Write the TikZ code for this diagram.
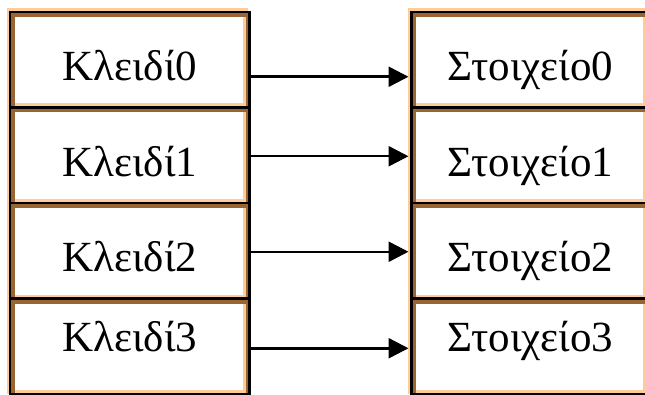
\documentclass[tikz,border=0pt]{standalone}
\usepackage{fontspec}
\setmainfont{Liberation Serif}
\usetikzlibrary{positioning, arrows.meta}

\definecolor{peach}{RGB}{255,204,153}
\definecolor{bark}{RGB}{153,102,51}

\begin{document}
\begin{tikzpicture}[
  x=1pt, y=1pt,
  node distance=0pt,
  cell/.style={draw=black, line width=2.2pt, fill=white, outer sep=0pt, inner sep=0pt,
    minimum height=95.5pt, font=\fontsize{43}{50}\selectfont,
    text height=42pt, text depth=0pt,
    path picture={
      \fill[peach] (path picture bounding box.south west) rectangle ([yshift=4pt]path picture bounding box.south east);
      \fill[peach] ([xshift=-6.5pt]path picture bounding box.south east) rectangle (path picture bounding box.north east);
      \fill[bark] ([xshift=-3.5pt]path picture bounding box.south east) rectangle (path picture bounding box.north east);
      \fill[bark] (path picture bounding box.north west) rectangle ([yshift=-5pt]path picture bounding box.north east);
      \fill[bark] (path picture bounding box.south west) rectangle ([xshift=4.5pt]path picture bounding box.north west);
    }},
  key/.style={cell, minimum width=239.2pt},
  item/.style={cell, minimum width=237.5pt},
  rim/.style={draw=peach, line width=2.4pt},
  arr/.style={-{Triangle[length=20pt, width=20pt]}, line width=2.5pt, shorten >=3pt}
]
\useasboundingbox (0,0) rectangle (645,394);

% keys
\node[key] (kcell0) at (129.9,334.25) {Κλειδί0};
\node[key, below=of kcell0] (kcell1) {Κλειδί1};
\node[key, below=of kcell1] (kcell2) {Κλειδί2};
\node[key, below=of kcell2, text height=9.5pt] (kcell3) {Κλειδί3};

% items
\node[item] (scell0) at (530.25,334.25) {Στοιχείο0};
\node[item, below=of scell0] (scell1) {Στοιχείο1};
\node[item, below=of scell1] (scell2) {Στοιχείο2};
\node[item, below=of scell2, text height=9.5pt] (scell3) {Στοιχείο3};

% light rim round each column
\draw[rim] ([xshift=-2.3pt]kcell3.south west) -- ([shift={(-2.3pt,2.3pt)}]kcell0.north west) -- ([shift={(-2pt,2.3pt)}]kcell0.north east);
\draw[rim] ([xshift=-2.3pt]scell3.south west) -- ([shift={(-2.3pt,2.3pt)}]scell0.north west) -- ([yshift=2.3pt]scell0.north east);

% key -> item
\draw[arr] ([yshift=-17pt]kcell0.east) -- ([yshift=-17pt]scell0.west);
\draw[arr] ([yshift=-1pt]kcell1.east) -- ([yshift=-1pt]scell1.west);
\draw[arr] ([yshift=-1pt]kcell2.east) -- ([yshift=-1pt]scell2.west);
\draw[arr] ([yshift=-2pt]kcell3.east) -- ([yshift=-2pt]scell3.west);

\end{tikzpicture}
\end{document}
